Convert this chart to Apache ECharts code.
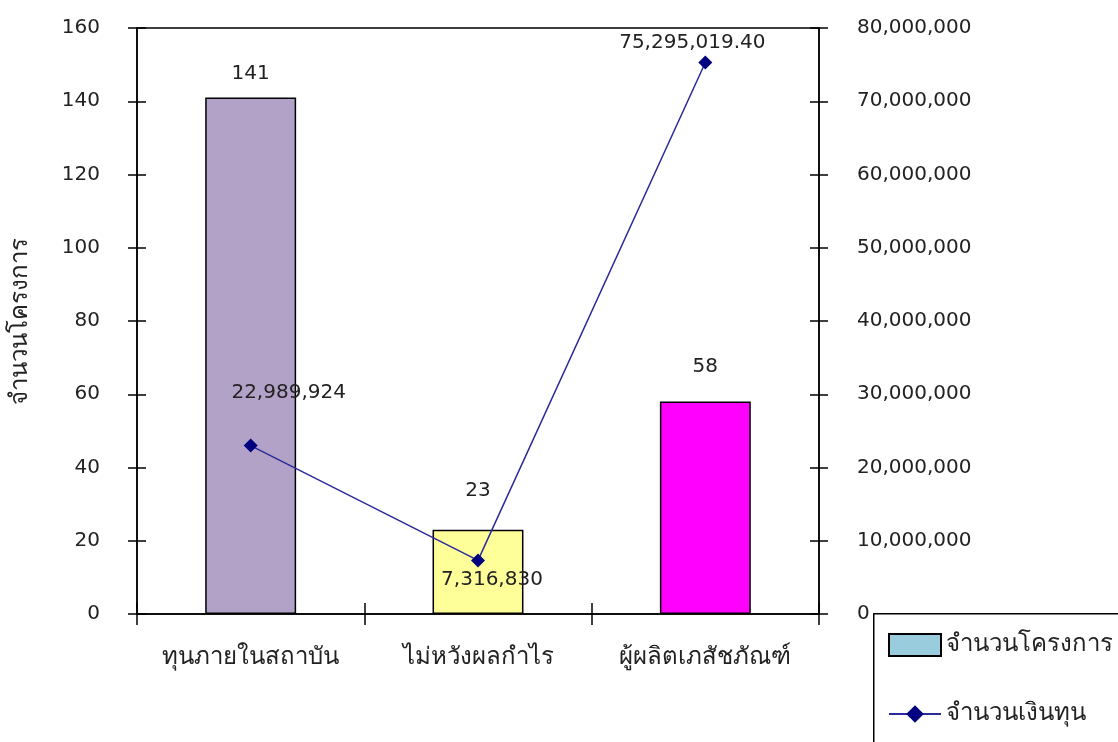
<!DOCTYPE html>
<html>
<head>
<meta charset="utf-8">
<script src="https://cdn.jsdelivr.net/npm/echarts@6/dist/echarts.min.js"></script>
<style>
html,body{margin:0;padding:0;background:#fff;}
#c{width:1118px;height:742px;}
</style>
</head>
<body>
<div id="c"></div>
<script>
const categories = ['ทุนภายในสถาบัน', 'ไม่หวังผลกำไร', 'ผู้ผลิตเภสัชภัณฑ์'];
const projectCounts = [141, 23, 58];
const fundAmounts = [22989924, 7316830, 75295019.40];
const fundLabels = ['22,989,924', '7,316,830', '75,295,019.40'];
const seriesNames = ['จำนวนโครงการ', 'จำนวนเงินทุน'];
const leftTicks = { min: 0, max: 160, interval: 20 };
const rightTicks = { min: 0, max: 80000000, interval: 10000000 };

// styles (kept separate from data)
const barColors = ['#B3A2C8', '#FFFF99', '#FF00FF'];
const barLabelGap = [14, 29, 25];
const lineLabelStyle = [
  { position: 'top', offset: [38, -31] },
  { position: 'bottom', offset: [14, -3] },
  { position: 'top', offset: [-13, 2] }
];

const FONT = '"DejaVu Sans", Verdana, "Noto Sans", sans-serif';
const TXT = '#222';
const NUM = 20;
const THAI = 24;

const chart = echarts.init(document.getElementById('c'));
const axisLine = { show: true, lineStyle: { color: '#000', width: 1.5 } };
const legendCommon = {
  left: 888, orient: 'vertical', padding: 0,
  itemWidth: 52, itemHeight: 22,
  textStyle: { fontFamily: FONT, fontSize: THAI, color: TXT, padding: [0, 0, 0, 0] }
};

chart.setOption({
  animation: false,
  textStyle: { fontFamily: FONT },
  grid: { left: 137, right: 299, top: 28, bottom: 128, show: true,
    borderColor: '#000', borderWidth: 1.5, backgroundColor: 'transparent' },
  graphic: [{
    type: 'rect', left: 873, top: 613, z: -1,
    shape: { width: 300, height: 200 },
    style: { fill: '#fff', stroke: '#000', lineWidth: 1.5 }
  }],
  legend: [
    Object.assign({}, legendCommon, { top: 633, data: [{ name: seriesNames[0], icon: 'rect' }] }),
    Object.assign({}, legendCommon, { top: 702, data: [seriesNames[1]] })
  ],
  xAxis: [
    {
      type: 'category', data: categories, position: 'bottom',
      axisLine: axisLine,
      axisTick: { show: true, interval: 0, length: 11, lineStyle: { color: '#000', width: 1.5 } },
      axisLabel: { interval: 0, hideOverlap: false, fontSize: THAI, color: TXT, margin: 32, fontFamily: FONT }
    },
    {
      type: 'category', data: categories, position: 'bottom',
      axisLine: { show: false },
      axisTick: { show: true, interval: 0, inside: true, length: 11, lineStyle: { color: '#000', width: 1.5 } },
      axisLabel: { show: false }
    }
  ],
  yAxis: [
    {
      type: 'value', position: 'left', ...leftTicks,
      name: seriesNames[0], nameLocation: 'middle', nameGap: 104, nameRotate: 90,
      nameTextStyle: { fontSize: THAI, color: TXT, fontFamily: FONT },
      axisLine: axisLine,
      axisTick: { show: true, length: 9, lineStyle: { color: '#000', width: 1.5 } },
      axisLabel: { fontSize: NUM, color: TXT, margin: 37, fontFamily: FONT },
      splitLine: { show: false }
    },
    {
      type: 'value', position: 'right', ...rightTicks,
      axisLine: axisLine,
      axisTick: { show: true, length: 9, lineStyle: { color: '#000', width: 1.5 } },
      axisLabel: { fontSize: NUM, color: TXT, margin: 38, fontFamily: FONT,
        formatter: v => v.toLocaleString('en-US') },
      splitLine: { show: false }
    },
    {
      type: 'value', position: 'left', ...leftTicks,
      axisLine: { show: false },
      axisTick: { show: true, inside: true, length: 9, lineStyle: { color: '#000', width: 1.5 } },
      axisLabel: { show: false }, splitLine: { show: false }
    },
    {
      type: 'value', position: 'right', ...rightTicks,
      axisLine: { show: false },
      axisTick: { show: true, inside: true, length: 9, lineStyle: { color: '#000', width: 1.5 } },
      axisLabel: { show: false }, splitLine: { show: false }
    }
  ],
  series: [
    {
      name: seriesNames[0], type: 'bar', xAxisIndex: 0, yAxisIndex: 0,
      barWidth: '40%',
      itemStyle: { color: '#99CCDD', borderColor: '#000', borderWidth: 1.5 },
      data: projectCounts.map((v, i) => ({
        value: v,
        itemStyle: { color: barColors[i], borderColor: '#000', borderWidth: 1.5 },
        label: { show: true, position: 'top', distance: barLabelGap[i],
          fontSize: NUM, color: TXT, fontFamily: FONT }
      }))
    },
    {
      name: seriesNames[1], type: 'line', xAxisIndex: 0, yAxisIndex: 1,
      symbol: 'diamond', symbolSize: 14,
      lineStyle: { color: '#2a2a9a', width: 1.5 },
      itemStyle: { color: '#000080' },
      z: 5,
      data: fundAmounts.map((v, i) => ({
        value: v,
        label: { show: true, position: lineLabelStyle[i].position, offset: lineLabelStyle[i].offset,
          distance: 5, fontSize: NUM, color: TXT, fontFamily: FONT,
          formatter: () => fundLabels[i] }
      }))
    }
  ]
});
</script>
</body>
</html>
